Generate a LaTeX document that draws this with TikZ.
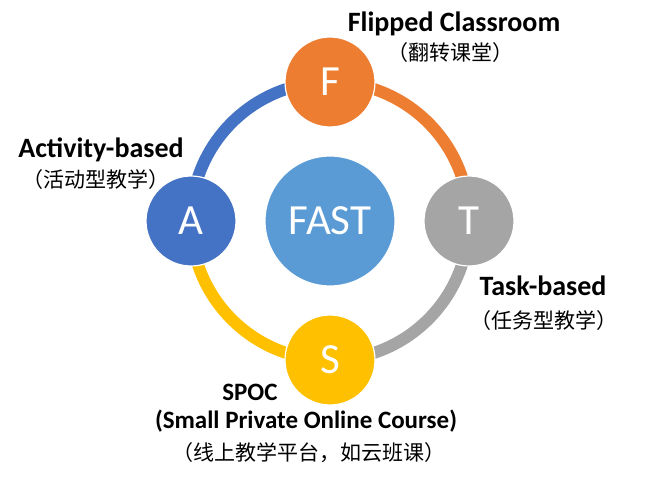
\documentclass[tikz,border=0pt]{standalone}
\usepackage{fontspec}
\setmainfont{Carlito}
\newfontfamily\cjk{Noto Sans CJK SC}
\definecolor{cA}{HTML}{4472C4}
\definecolor{cF}{HTML}{ED7D31}
\definecolor{cT}{HTML}{A5A5A5}
\definecolor{cS}{HTML}{FFC000}
\definecolor{cFAST}{HTML}{5B9BD5}
\tikzset{
  letter/.style={circle, draw=white, line width=1.2pt, minimum size=90pt, inner sep=0pt, text=white, font=\fontsize{43}{43}\selectfont},
  ring/.style={line width=12pt},
  title/.style={font=\fontsize{28}{28}\selectfont\bfseries, inner sep=0pt, anchor=base},
  smalltitle/.style={title, font=\fontsize{25}{25}\selectfont\bfseries},
  sub/.style={font=\cjk\fontsize{21}{21}\selectfont, inner sep=0pt, anchor=base},
}
\begin{document}
\begin{tikzpicture}[x=1pt,y=1pt]
\useasboundingbox (0,0) rectangle (653,477);
\coordinate (c) at (330,256);
\node[letter, fill=cFAST, minimum size=130pt] (fast) at (c) {FAST};
\coordinate (pA) at (191,256);
\coordinate (pF) at (330,395);
\coordinate (pT) at (469,256);
\coordinate (pS) at (330,117);
\draw[ring, cA] (pA) arc[start angle=180, end angle=90, radius=139];
\draw[ring, cF] (pF) arc[start angle=90, end angle=0, radius=139];
\draw[ring, cT] (pT) arc[start angle=0, end angle=-90, radius=139];
\draw[ring, cS] (pS) arc[start angle=-90, end angle=-180, radius=139];
\node[letter, fill=cA] (A) at (pA) {A};
\node[letter, fill=cF] (F) at (pF) {F};
\node[letter, fill=cT] (T) at (pT) {T};
\node[letter, fill=cS] (S) at (pS) {S};
\node[title] (tF) at (454,445) {Flipped Classroom};
\node[sub] (sF) at (450,416.5) {（翻转课堂）};
\node[title] (tA) at (101,319) {Activity-based};
\node[sub] (sA) at (96,289) {（活动型教学）};
\node[title] (tT) at (543,182) {Task-based};
\node[sub] (sT) at (543.5,149) {（任务型教学）};
\node[smalltitle] (tS1) at (250,77) {SPOC};
\node[smalltitle] (tS2) at (306,49) {(Small Private Online Course)};
\node[sub] (sS) at (308.5,17) {（线上教学平台，如云班课）};
\end{tikzpicture}
\end{document}
